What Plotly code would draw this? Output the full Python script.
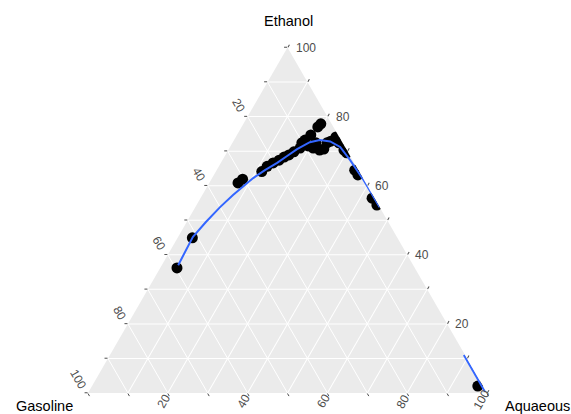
import math
import plotly.graph_objects as go

# Measured compositions (percent): Ethanol / Gasoline / Aquaeous
ethanol = [36.2, 44.9, 60.8, 61.9, 64.1, 65.6, 66.6, 67.4, 68.3, 68.9, 69.8,
           70.9, 73.2, 74.7, 77.0, 77.9, 70.9, 70.3, 70.6, 72.4, 72.9, 74.1,
           72.4, 70.3, 69.5, 64.5, 63.1, 56.4, 54.4, 2.0, 71.5, 72.4, 72.4]
gasoline = [59.6, 51.4, 32.0, 30.3, 24.4, 22.3, 20.3, 18.4, 16.7, 15.2, 13.5,
            11.4, 9.0, 6.8, 3.9, 2.7, 8.1, 6.8, 5.6, 3.9, 2.7, 0.8,
            0.9, 0.7, 0.4, 0.9, 0.8, 0.6, 0.4, 1.3, 9.1, 6.7, 10.2]
aquaeous = [4.2, 3.7, 7.2, 7.8, 11.5, 12.1, 13.1, 14.2, 15.0, 15.9, 16.7,
            17.7, 17.8, 18.5, 19.1, 19.4, 21.0, 22.9, 23.8, 23.7, 24.4, 25.1,
            26.7, 29.0, 30.1, 34.6, 36.1, 43.0, 45.2, 96.7, 19.4, 20.9, 17.4]

# Smoothed trend (the part outside the simplex is left out)
fit_ethanol = [37.0, 45.2, 49.5, 53.8, 57.3, 62.2, 64.5, 66.6, 68.6, 70.6,
               72.6, 73.2, 72.8, 71.2, 67.4, 61.6, 53.8, None, 11.0, 0.4]
fit_gasoline = [58.9, 51.1, 45.7, 40.0, 35.0, 27.5, 23.4, 19.3, 15.8, 12.3,
                8.1, 5.3, 2.9, 1.2, 0.6, 0.1, 0.0, None, 0.3, 0.3]
fit_aquaeous = [4.1, 3.7, 4.8, 6.2, 7.7, 10.3, 12.1, 14.1, 15.6, 17.1,
                19.3, 21.5, 24.3, 27.6, 32.0, 38.3, 46.2, None, 88.7, 99.3]

grid_vals = list(range(0, 101, 10))
label_vals = [20, 40, 60, 80, 100]

W, H = 571, 414
DOM_X = [0.1541, 0.8529]
DOM_Y = [0.0507, 0.8853]

FONT = "Liberation Sans, Arial, sans-serif"
TICK_SIZE = 12
tick_font = dict(family=FONT, size=TICK_SIZE, color="#4D4D4D")
title_font = dict(family=FONT, size=14.5, color="#000000")

axis_common = dict(
    showgrid=True, gridcolor="#FFFFFF", gridwidth=1,
    showline=False, ticks="outside", ticklen=3, tickwidth=1,
    tickcolor="#4D4D4D", showticklabels=False, layer="below traces",
    tickmode="array", tickvals=grid_vals, title=dict(text=""),
)

fig = go.Figure()
fig.add_trace(go.Scatterternary(
    a=ethanol, b=gasoline, c=aquaeous, mode="markers",
    marker=dict(color="#000000", size=11, line=dict(width=0)),
    hoverinfo="skip", showlegend=False,
))
fig.add_trace(go.Scatterternary(
    a=fit_ethanol, b=fit_gasoline, c=fit_aquaeous, mode="lines",
    line=dict(color="#3366FF", width=2), connectgaps=False,
    hoverinfo="skip", showlegend=False,
))

fig.update_layout(
    width=W, height=H,
    margin=dict(l=0, r=0, t=0, b=0),
    paper_bgcolor="#FFFFFF",
    ternary=dict(
        sum=100, bgcolor="#EBEBEB",
        domain=dict(x=DOM_X, y=DOM_Y),
        aaxis=axis_common, baxis=axis_common, caxis=axis_common,
    ),
)

# Triangle geometry in pixels, derived from the ternary domain
side = (DOM_X[1] - DOM_X[0]) * W
x_left = DOM_X[0] * W
y_base = (1 - DOM_Y[0]) * H
height = side * math.sqrt(3) / 2


def to_px(eth, aq):
    """Pixel position of a composition (percent Ethanol, percent Aquaeous)."""
    x = x_left + side * (aq / 100 + eth / 200)
    y = y_base - height * eth / 100
    return x, y


def add_label(text, x, y, angle):
    fig.add_annotation(text=text, x=x / W, y=1 - y / H, xref="paper", yref="paper",
                       xanchor="center", yanchor="middle", textangle=angle,
                       showarrow=False, font=tick_font)


for v in label_vals:
    s = str(v)
    half = len(s) * 0.556 * TICK_SIZE / 2
    # Ethanol scale along the right edge, horizontal text
    x, y = to_px(v, 100 - v)
    add_label(s, x + half + 8.5, y + 0.5, 0)
    # Gasoline scale along the left edge, text turned 60 degrees clockwise
    x, y = to_px(100 - v, 0)
    add_label(s, x - 4 - (half + 2) * 0.5, y - 3.5 - (half + 2) * 0.866, 60)
    # Aquaeous scale along the bottom edge, text turned 60 degrees counter-clockwise,
    # kept inside the page
    x, y = to_px(0, v)
    yc = min(y + 1.5 + (half + 1) * 0.866, H - 1 - (half * 0.866 + 4))
    add_label(s, x - (half + 1) * 0.5, yc, -60)

# vertex titles, given in pixels from the top-left corner
titles = [("Ethanol", 288, 21), ("Gasoline", 44.5, 405.5), ("Aquaeous", 537, 405.5)]
for text, px, py in titles:
    fig.add_annotation(text=text, x=px / W, y=1 - py / H,
                       xref="paper", yref="paper", xanchor="center",
                       yanchor="middle", showarrow=False, font=title_font)

fig.write_html("out.html", config={"displayModeBar": False})
